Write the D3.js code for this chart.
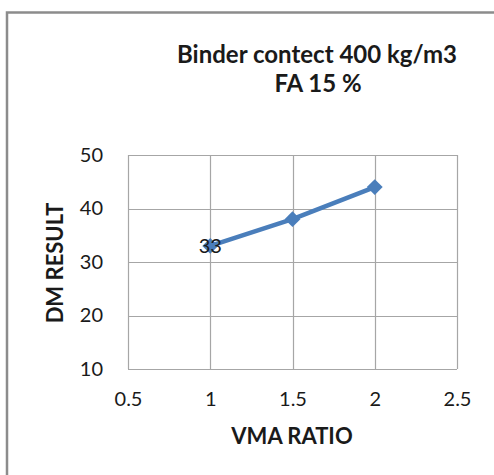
<!DOCTYPE html>
<html>
<head>
<meta charset="utf-8">
<script src="https://cdn.jsdelivr.net/npm/d3@7"></script>
<style>
  html, body { margin: 0; padding: 0; background: #fff; }
  svg { display: block; }
  text { font-family: Lato, "Open Sans", sans-serif; fill: #1a1a1a; }
</style>
</head>
<body>
<svg id="chart" width="494" height="475"></svg>
<script>
// VMA ratio vs DM result
const vmaRatio = [1, 1.5, 2];
const dmResult = [33, 38, 44];
const pointLabels = ["33", null, null];
const xTicks = [0.5, 1, 1.5, 2, 2.5];
const yTicks = [10, 20, 30, 40, 50];
const titleLines = ["Binder contect 400 kg/m3", "FA 15 %"];
const xTitle = "VMA RATIO";
const yTitle = "DM RESULT";

const svg = d3.select("#chart");
const plot = { left: 128, right: 457, top: 155, bottom: 369 };

// outer chart frame (continues past the right and bottom edges)
svg.append("rect")
  .attr("x", 7).attr("y", 12.5)
  .attr("width", 520).attr("height", 520)
  .attr("fill", "none").attr("stroke", "#8c8c8c").attr("stroke-width", 2.5);

const x = d3.scaleLinear().domain([0.5, 2.5]).range([plot.left, plot.right]);
const y = d3.scaleLinear().domain([10, 50]).range([plot.bottom, plot.top]);

// gridlines
const grid = svg.append("g").attr("stroke", "#a6a6a6").attr("stroke-width", 1.2);
grid.selectAll("line.v").data(xTicks).join("line")
  .attr("x1", d => Math.round(x(d)) + 0.5).attr("x2", d => Math.round(x(d)) + 0.5)
  .attr("y1", plot.top).attr("y2", plot.bottom);
grid.selectAll("line.h").data(yTicks).join("line")
  .attr("y1", d => Math.round(y(d)) + 0.5).attr("y2", d => Math.round(y(d)) + 0.5)
  .attr("x1", plot.left).attr("x2", plot.right);

// axes (labels only)
const xAxis = svg.append("g")
  .attr("transform", `translate(0,${plot.bottom})`)
  .call(d3.axisBottom(x).tickValues(xTicks).tickFormat(d3.format("")).tickSize(0).tickPadding(23));
xAxis.select(".domain").remove();
xAxis.selectAll("text").style("font-size", "20px").style("font-family", "Lato, sans-serif").attr("fill", "#1a1a1a");

const yAxis = svg.append("g")
  .attr("transform", `translate(${plot.left},0)`)
  .call(d3.axisLeft(y).tickValues(yTicks).tickFormat(d3.format("")).tickSize(0).tickPadding(25));
yAxis.select(".domain").remove();
yAxis.selectAll("text").style("font-size", "20px").style("font-family", "Lato, sans-serif").attr("fill", "#1a1a1a");

// titles
svg.append("text")
  .attr("x", 317).attr("y", 63)
  .attr("text-anchor", "middle")
  .style("font-size", "24px").style("font-weight", "bold")
  .text(titleLines[0]);
svg.append("text")
  .attr("x", 318).attr("y", 92)
  .attr("text-anchor", "middle")
  .style("font-size", "24px").style("font-weight", "bold")
  .text(titleLines[1]);

svg.append("text")
  .attr("x", 292).attr("y", 444)
  .attr("text-anchor", "middle")
  .style("font-size", "22px").style("font-weight", "bold")
  .text(xTitle);
svg.append("text")
  .attr("transform", "translate(63,263) rotate(-90)")
  .attr("text-anchor", "middle")
  .style("font-size", "22px").style("font-weight", "bold")
  .text(yTitle);

// series
const data = vmaRatio.map((v, i) => ({ x: v, y: dmResult[i], label: pointLabels[i] }));
const line = d3.line().x(d => x(d.x)).y(d => y(d.y));
svg.append("path")
  .datum(data)
  .attr("d", line)
  .attr("fill", "none")
  .attr("stroke", "#4a7ebb")
  .attr("stroke-width", 4.5)
  .attr("stroke-linejoin", "round");

svg.selectAll("path.marker").data(data).join("path")
  .attr("class", "marker")
  .attr("transform", d => `translate(${x(d.x)},${y(d.y)})`)
  .attr("d", d3.symbol(d3.symbolDiamond2, 160)())
  .attr("fill", "#4a7ebb");

svg.selectAll("text.pt").data(data.filter(d => d.label)).join("text")
  .attr("class", "pt")
  .attr("x", d => x(d.x))
  .attr("y", d => y(d.y))
  .attr("dy", "0.36em")
  .attr("text-anchor", "middle")
  .style("font-size", "20px")
  .text(d => d.label);
</script>
</body>
</html>
